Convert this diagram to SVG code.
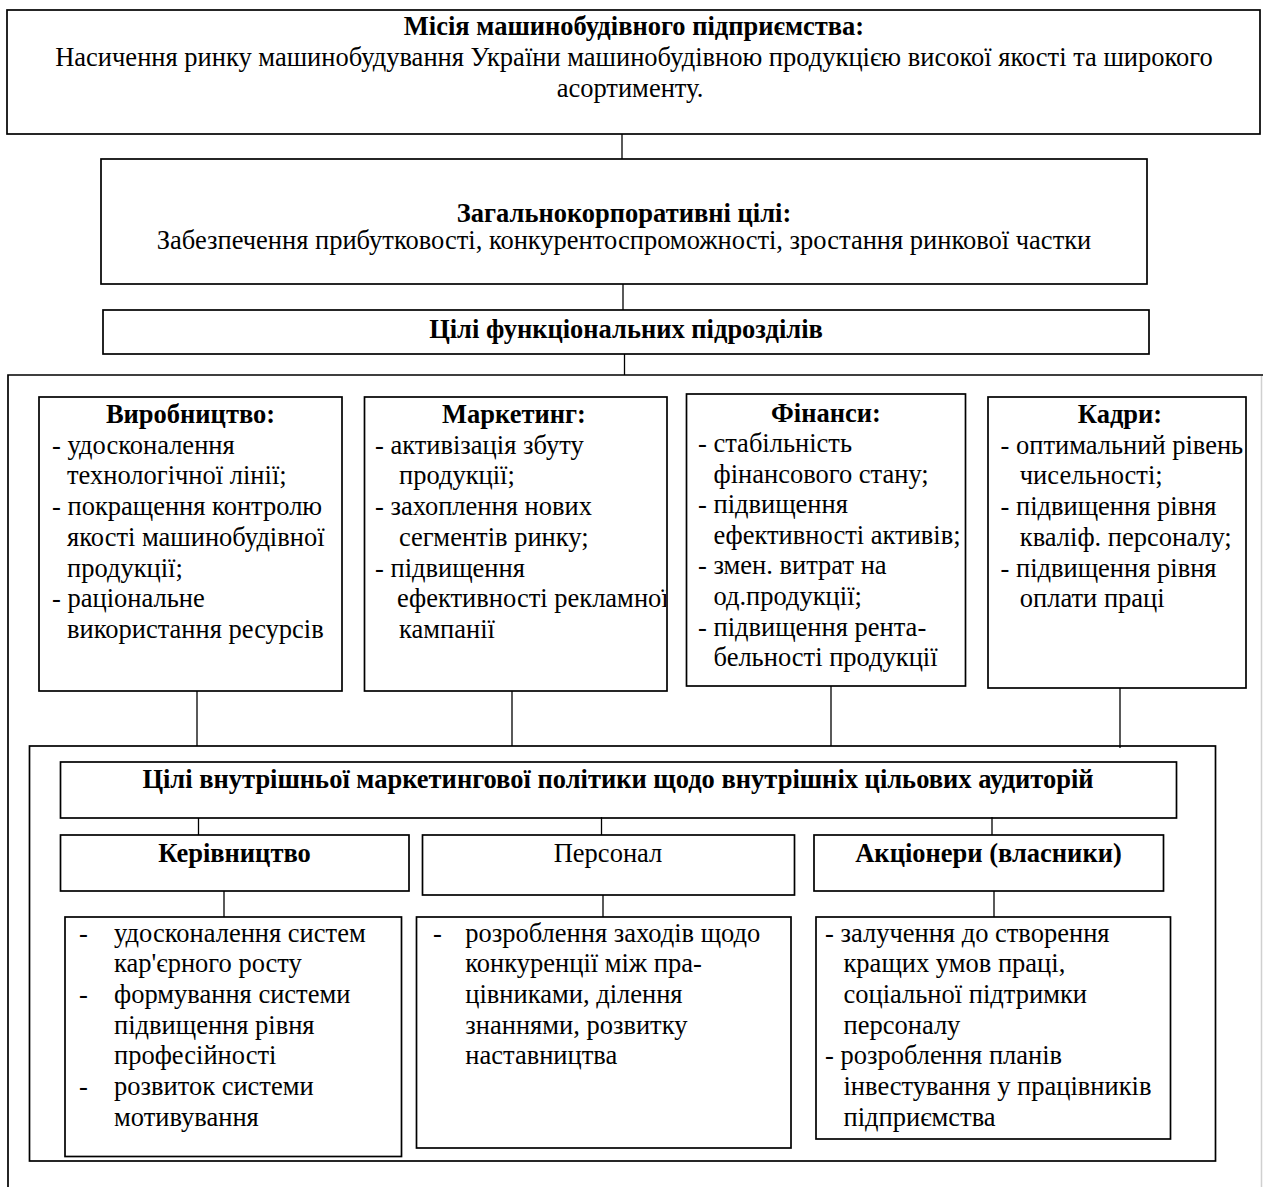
<svg xmlns="http://www.w3.org/2000/svg" width="1263" height="1187" viewBox="0 0 1263 1187">
<style>
.box{fill:#fff;stroke:#000;stroke-width:1.7}
.frame{fill:none;stroke:#000;stroke-width:1.7}
.conn line{stroke:#000;stroke-width:1.3}
text{font-family:"Liberation Serif","Times New Roman",serif;font-size:26.5px;fill:#000}
.b{font-weight:bold}
.c{text-anchor:middle}
</style>
<defs>
<clipPath id="clipMkt"><rect x="364" y="397" width="302" height="294"/></clipPath>
</defs>
<rect width="1263" height="1187" fill="#fff"/>

<g id="outer-frame">
<path class="frame" d="M8,1187 V375 H1263"/>
<line x1="1261.5" y1="376" x2="1261.5" y2="1187" stroke="#d0d0d0" stroke-width="1.5"/>
</g>

<g id="mission">
<rect class="box" x="7" y="10" width="1253" height="124"/>
<text class="b c" x="634" y="35">Місія машинобудівного підприємства:</text>
<text class="c" x="634" y="66">Насичення ринку машинобудування України машинобудівною продукцією високої якості та широкого</text>
<text class="c" x="630" y="96.5">асортименту.</text>
</g>

<g id="corporate">
<rect class="box" x="101" y="159" width="1046" height="125"/>
<text class="b c" x="624" y="222">Загальнокорпоративні цілі:</text>
<text class="c" x="624" y="249">Забезпечення прибутковості, конкурентоспроможності, зростання ринкової частки</text>
</g>

<g id="functional">
<rect class="box" x="103" y="310" width="1046" height="44"/>
<text class="b c" x="626" y="338">Цілі функціональних підрозділів</text>
</g>

<g id="production">
<rect class="box" x="39" y="397" width="303" height="294"/>
<text class="b c" x="190.5" y="423">Виробництво:</text>
<text x="52" y="453.7">- удосконалення</text>
<text x="67" y="484.4">технологічної лінії;</text>
<text x="52" y="515">- покращення контролю</text>
<text x="67" y="545.8">якості машинобудівної</text>
<text x="67" y="576.5">продукції;</text>
<text x="52" y="607.2">- раціональне</text>
<text x="67" y="638">використання ресурсів</text>
</g>

<g id="marketing">
<rect class="box" x="364.5" y="397" width="302.5" height="294"/>
<g clip-path="url(#clipMkt)">
<text class="b c" x="514" y="423">Маркетинг:</text>
<text x="375" y="453.7">- активізація збуту</text>
<text x="399" y="484.4">продукції;</text>
<text x="375" y="515">- захоплення нових</text>
<text x="399" y="545.8">сегментів ринку;</text>
<text x="375" y="576.5">- підвищення</text>
<text x="397" y="607.2">ефективності рекламної</text>
<text x="399" y="638">кампанії</text>
</g>
</g>

<g id="finance">
<rect class="box" x="686.5" y="394" width="279" height="292"/>
<text class="b c" x="826" y="421.5">Фінанси:</text>
<text x="698" y="452">- стабільність</text>
<text x="713.5" y="482.6">фінансового стану;</text>
<text x="698" y="513.2">- підвищення</text>
<text x="713.5" y="543.8">ефективності активів;</text>
<text x="698" y="574.4">- змен. витрат на</text>
<text x="713.5" y="605">од.продукції;</text>
<text x="698" y="635.6">- підвищення рента-</text>
<text x="713.5" y="666.2">бельності продукції</text>
</g>

<g id="hr">
<rect class="box" x="988" y="397" width="258" height="291"/>
<text class="b c" x="1120" y="423">Кадри:</text>
<text x="1000.5" y="453.7">- оптимальний рівень</text>
<text x="1019.8" y="484.4">чисельності;</text>
<text x="1000.5" y="515">- підвищення рівня</text>
<text x="1019.8" y="545.8">кваліф. персоналу;</text>
<text x="1000.5" y="576.5">- підвищення рівня</text>
<text x="1019.8" y="607.2">оплати праці</text>
</g>

<g id="internal-frame">
<rect class="frame" x="29.5" y="746" width="1186" height="415"/>
</g>

<g id="internal-goals">
<rect class="box" x="60.5" y="762" width="1116" height="56"/>
<text class="b c" x="618" y="788">Цілі внутрішньої маркетингової політики щодо внутрішніх цільових аудиторій</text>
</g>

<g id="management">
<rect class="box" x="60.5" y="835" width="348.5" height="56"/>
<text class="b c" x="234.5" y="862">Керівництво</text>
</g>

<g id="staff">
<rect class="box" x="422.5" y="835" width="372" height="60"/>
<text class="c" x="608" y="862">Персонал</text>
</g>

<g id="shareholders">
<rect class="box" x="814" y="835" width="349.5" height="56"/>
<text class="b c" x="988.5" y="862">Акціонери (власники)</text>
</g>

<g id="management-goals">
<rect class="box" x="65" y="917" width="336.5" height="239.5"/>
<text x="79" y="941.7">-</text>
<text x="114" y="941.7">удосконалення систем</text>
<text x="114" y="972.4">кар'єрного росту</text>
<text x="79" y="1003">-</text>
<text x="114" y="1003">формування системи</text>
<text x="114" y="1033.7">підвищення рівня</text>
<text x="114" y="1064.4">професійності</text>
<text x="79" y="1095">-</text>
<text x="114" y="1095">розвиток системи</text>
<text x="114" y="1125.8">мотивування</text>
</g>

<g id="staff-goals">
<rect class="box" x="416.5" y="917" width="374.5" height="231"/>
<text x="433" y="941.7">-</text>
<text x="465.3" y="941.7">розроблення заходів щодо</text>
<text x="465.3" y="972.4">конкуренції між пра-</text>
<text x="465.3" y="1003">цівниками, ділення</text>
<text x="465.3" y="1033.7">знаннями, розвитку</text>
<text x="465.3" y="1064.4">наставництва</text>
</g>

<g id="shareholder-goals">
<rect class="box" x="816" y="917" width="354.5" height="222"/>
<text x="825" y="941.7">- залучення до створення</text>
<text x="843.5" y="972.4">кращих умов праці,</text>
<text x="843.5" y="1003">соціальної підтримки</text>
<text x="843.5" y="1033.7">персоналу</text>
<text x="825" y="1064.4">- розроблення планів</text>
<text x="843.5" y="1095">інвестування у працівників</text>
<text x="843.5" y="1125.8">підприємства</text>
</g>

<g id="connectors" class="conn">
<line x1="622" y1="134" x2="622" y2="159"/>
<line x1="623" y1="284" x2="623" y2="310"/>
<line x1="624.5" y1="354" x2="624.5" y2="375"/>
<line x1="197" y1="691" x2="197" y2="746"/>
<line x1="512" y1="691" x2="512" y2="746"/>
<line x1="831" y1="686" x2="831" y2="746"/>
<line x1="1120" y1="688" x2="1120" y2="748"/>
<line x1="198.5" y1="818" x2="198.5" y2="835"/>
<line x1="601.5" y1="817" x2="601.5" y2="835"/>
<line x1="992" y1="817" x2="992" y2="835"/>
<line x1="224" y1="891" x2="224" y2="917"/>
<line x1="603" y1="895" x2="603" y2="917"/>
<line x1="994" y1="891" x2="994" y2="917"/>
</g>
</svg>
